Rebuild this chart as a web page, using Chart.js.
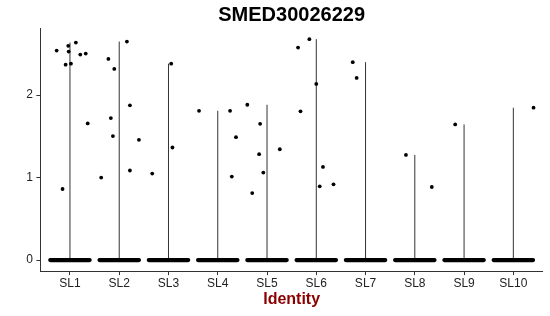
<!DOCTYPE html>
<html>
<head>
<meta charset="utf-8">
<script src="https://cdn.jsdelivr.net/npm/chart.js@4/dist/chart.umd.min.js"></script>
<style>
  html, body { margin: 0; padding: 0; background: #ffffff; }
  #wrap { width: 550px; height: 316px; }
</style>
</head>
<body>
<div id="wrap"><canvas id="c" width="550" height="316"></canvas></div>
<script>
// ---- Data ----
const categories = ['SL1', 'SL2', 'SL3', 'SL4', 'SL5', 'SL6', 'SL7', 'SL8', 'SL9', 'SL10'];
const yTicks = [0, 1, 2];
const chartTitle = 'SMED30026229';
const xTitle = 'Identity';

// non-zero expression values per identity
const valuesSL1 = [2.539, 2.596, 2.526, 2.636, 2.368, 2.380, 2.490, 2.502, 1.656, 0.861];
const valuesSL2 = [2.648, 2.438, 2.316, 1.875, 1.720, 1.502, 1.457, 0.999, 1.085];
const valuesSL3 = [2.380, 1.364, 1.048];
const valuesSL4 = [1.809, 1.809, 1.489, 1.012];
const valuesSL5 = [1.882, 1.651, 0.812, 1.283, 1.060, 1.343];
const valuesSL6 = [2.575, 2.677, 2.134, 1.802, 1.128, 0.894, 0.918];
const valuesSL7 = [2.398, 2.207];
const valuesSL8 = [1.274, 0.885];
const valuesSL9 = [1.644];
const valuesSL10 = [1.846];

// horizontal jitter of each point (in category units)
const jitterSL1 = [-0.27, -0.035, -0.026, 0.12, -0.088, 0.02, 0.21, 0.32, 0.36, -0.15];
const jitterSL2 = [0.156, -0.22, -0.10, 0.217, -0.17, -0.128, 0.40, -0.366, 0.217];
const jitterSL3 = [0.055, 0.08, -0.33];
const jitterSL4 = [-0.38, 0.25, 0.37, 0.285];
const jitterSL5 = [-0.40, -0.14, -0.30, -0.16, -0.075, 0.26];
const jitterSL6 = [-0.37, -0.14, 0.0, -0.32, 0.136, 0.07, 0.35];
const jitterSL7 = [-0.26, -0.18];
const jitterSL8 = [-0.18, 0.345];
const jitterSL9 = [-0.18];
const jitterSL10 = [0.41];

// the bulk of cells in every identity have value 0
const zeroValue = 0;

// ---- Build datasets ----
const allValues = [valuesSL1, valuesSL2, valuesSL3, valuesSL4, valuesSL5, valuesSL6, valuesSL7, valuesSL8, valuesSL9, valuesSL10];
const allJitter = [jitterSL1, jitterSL2, jitterSL3, jitterSL4, jitterSL5, jitterSL6, jitterSL7, jitterSL8, jitterSL9, jitterSL10];

const JITTER_HALF = 0.4; // half width of jitter band (category units)

const pointData = [];
allValues.forEach((vals, i) => {
  vals.forEach((v, k) => pointData.push({ x: i + 1 + allJitter[i][k], y: v }));
});

const violinData = [];
const zeroData = [];
allValues.forEach((vals, i) => {
  const c = i + 1;
  violinData.push({ x: c, y: zeroValue }, { x: c, y: Math.max(...vals) }, { x: c + 0.001, y: null });
  zeroData.push({ x: c - JITTER_HALF, y: zeroValue }, { x: c + JITTER_HALF, y: zeroValue }, { x: c + JITTER_HALF + 0.001, y: null });
});

const FONT = "'Liberation Sans', Arial, Helvetica, sans-serif";

new Chart(document.getElementById('c'), {
  type: 'scatter',
  data: {
    datasets: [
      {
        type: 'scatter',
        data: pointData,
        pointRadius: 1.9,
        pointBorderWidth: 0,
        backgroundColor: '#000000',
        borderColor: '#000000',
        order: 0
      },
      {
        type: 'line',
        data: zeroData,
        borderColor: '#000000',
        borderWidth: 4.2,
        borderCapStyle: 'round',
        pointRadius: 0,
        spanGaps: false,
        fill: false,
        order: 1
      },
      {
        type: 'line',
        data: violinData,
        borderColor: '#333333',
        borderWidth: 1,
        pointRadius: 0,
        spanGaps: false,
        fill: false,
        order: 2
      }
    ]
  },
  options: {
    responsive: false,
    animation: false,
    devicePixelRatio: 1,
    layout: { padding: { left: 0, right: 7.1, top: 0, bottom: 0 } },
    plugins: {
      legend: { display: false },
      tooltip: { enabled: false },
      title: {
        display: true,
        text: chartTitle,
        fullSize: false,
        color: '#000000',
        font: { family: FONT, size: 20, weight: 'bold', lineHeight: 1.2 },
        padding: { top: 3.5, bottom: 0.6 }
      }
    },
    scales: {
      x: {
        type: 'linear',
        min: 0.4,
        max: 10.6,
        afterBuildTicks: (s) => { s.ticks = categories.map((c, i) => ({ value: i + 1 })); },
        afterFit: (s) => { s.height = 44.9; },
        ticks: {
          callback: (v) => categories[Math.round(v) - 1],
          color: '#222222',
          font: { family: FONT, size: 12 },
          padding: 1,
          maxRotation: 0,
          autoSkip: false
        },
        grid: { display: true, drawOnChartArea: false, drawTicks: true, tickLength: 4, color: '#333333', lineWidth: 1 },
        border: { display: true, color: '#333333', width: 1 },
        title: {
          display: true,
          text: xTitle,
          color: '#8B0000',
          font: { family: FONT, size: 16, weight: 'bold', lineHeight: 1.2 },
          padding: { top: 0, bottom: 6.4 }
        }
      },
      y: {
        type: 'linear',
        min: -0.134,
        max: 2.811,
        afterBuildTicks: (s) => { s.ticks = yTicks.map(v => ({ value: v })); },
        afterFit: (s) => { s.width = 40.4; },
        ticks: {
          callback: (v) => String(v),
          color: '#222222',
          font: { family: FONT, size: 12 },
          padding: 3.4
        },
        grid: { display: true, drawOnChartArea: false, drawTicks: true, tickLength: 4, color: '#333333', lineWidth: 1 },
        border: { display: true, color: '#333333', width: 1 }
      }
    }
  }
});
</script>
</body>
</html>
